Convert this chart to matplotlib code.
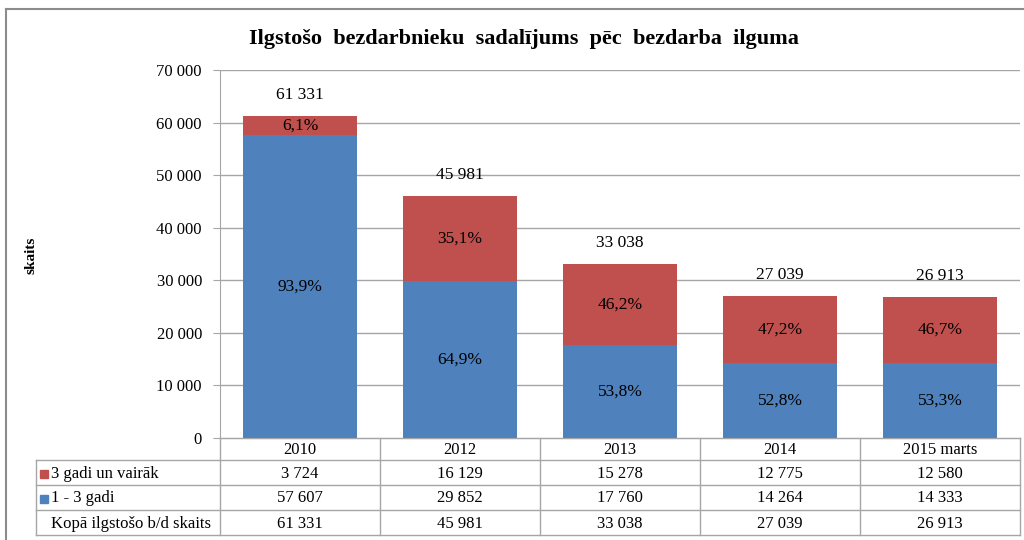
import numpy as np
import matplotlib
matplotlib.use("Agg")
import matplotlib.pyplot as plt
from matplotlib.lines import Line2D
from matplotlib.patches import Rectangle

plt.rcParams["font.family"] = ["Liberation Serif", "DejaVu Serif"]

years = ["2010", "2012", "2013", "2014", "2015 marts"]
short_term = [57607, 29852, 17760, 14264, 14333]     # 1 - 3 gadi
long_term = [3724, 16129, 15278, 12775, 12580]       # 3 gadi un vairāk
totals = [61331, 45981, 33038, 27039, 26913]
pct_short = ["93,9%", "64,9%", "53,8%", "52,8%", "53,3%"]
pct_long = ["6,1%", "35,1%", "46,2%", "47,2%", "46,7%"]
yticks = [0, 10000, 20000, 30000, 40000, 50000, 60000, 70000]

BLUE = "#4F81BD"
RED = "#C0504D"
GRID = "#A6A6A6"
FS = 12

def fmt(v):
    return f"{v:,}".replace(",", " ")

W, H = 1024, 540
fig = plt.figure(figsize=(W / 100, H / 100), dpi=100)

# outer frame of the chart
fig.add_artist(Line2D([6 / W, 6 / W], [0, 1 - 9 / H], transform=fig.transFigure, color="#8C8C8C", lw=1.5))
fig.add_artist(Line2D([6 / W, 1], [1 - 9 / H, 1 - 9 / H], transform=fig.transFigure, color="#8C8C8C", lw=1.5))

x0, x1 = 220, 1020
ytop, ybot = 70, 438
ax = fig.add_axes([x0 / W, 1 - ybot / H, (x1 - x0) / W, (ybot - ytop) / H])

x = np.arange(len(years))
bw = 0.71
ax.bar(x, short_term, bw, color=BLUE, zorder=2)
ax.bar(x, long_term, bw, bottom=short_term, color=RED, zorder=2)

for i in range(len(years)):
    ax.text(x[i], short_term[i] / 2, pct_short[i], ha="center", va="center", fontsize=12.5, zorder=3)
    ax.text(x[i], short_term[i] + long_term[i] / 2, pct_long[i], ha="center", va="center", fontsize=12.5, zorder=3)
    ax.annotate(fmt(totals[i]), (x[i], totals[i]), xytext=(0, 15), textcoords="offset points",
                ha="center", va="center", fontsize=12.5)

ax.set_xlim(-0.5, len(years) - 0.5)
ax.set_ylim(0, 70000)
ax.set_yticks(yticks)
ax.set_yticklabels([fmt(v) for v in yticks], fontsize=FS)
ax.set_xticks([])
ax.yaxis.grid(True, color=GRID, lw=1)
ax.set_axisbelow(True)
ax.tick_params(axis="y", length=5, color=GRID, pad=8)
for s in ["top", "right"]:
    ax.spines[s].set_visible(False)
ax.spines["left"].set_color(GRID)
ax.spines["bottom"].set_color(GRID)

fig.text(31 / W, 1 - 255 / H, "skaits", rotation=90, ha="center", va="center", fontsize=11, fontweight="bold")
fig.text(524 / W, 1 - 39 / H, "Ilgstošo  bezdarbnieku  sadalījums  pēc  bezdarba  ilguma",
         ha="center", va="center", fontsize=16, fontweight="bold")

# data table under the chart (pixel coordinates)
tab = fig.add_axes([0, 0, 1, 1], zorder=-1)
tab.set_xlim(0, W)
tab.set_ylim(H, 0)
tab.axis("off")
rows_y = [438, 460, 485, 510, 535]
cols_x = [x0 + k * (x1 - x0) / len(years) for k in range(len(years) + 1)]
lab_x = 36
lc = "#A6A6A6"
tab.plot([x0, x1], [rows_y[0]] * 2, color=lc, lw=1)
for yy in rows_y[1:]:
    tab.plot([lab_x, x1], [yy, yy], color=lc, lw=1)
tab.plot([lab_x, lab_x], [rows_y[1], rows_y[-1]], color=lc, lw=1)
for xx in cols_x:
    tab.plot([xx, xx], [rows_y[0], rows_y[-1]], color=lc, lw=1)

row_labels = ["3 gadi un vairāk", "1 - 3 gadi", "Kopā ilgstošo b/d skaits"]
row_values = [long_term, short_term, totals]
row_colors = [RED, BLUE, None]
for j in range(len(years)):
    cx = (cols_x[j] + cols_x[j + 1]) / 2
    tab.text(cx, (rows_y[0] + rows_y[1]) / 2 + 1, years[j], ha="center", va="center", fontsize=FS)
for r in range(3):
    cy = (rows_y[r + 1] + rows_y[r + 2]) / 2 + 1
    if row_colors[r]:
        tab.add_patch(Rectangle((40, cy - 4), 8, 8, color=row_colors[r]))
    tab.text(51, cy, row_labels[r], ha="left", va="center", fontsize=FS)
    for j in range(len(years)):
        cx = (cols_x[j] + cols_x[j + 1]) / 2
        tab.text(cx, cy, fmt(row_values[r][j]), ha="center", va="center", fontsize=FS)

fig.savefig("out.png", dpi=100)
